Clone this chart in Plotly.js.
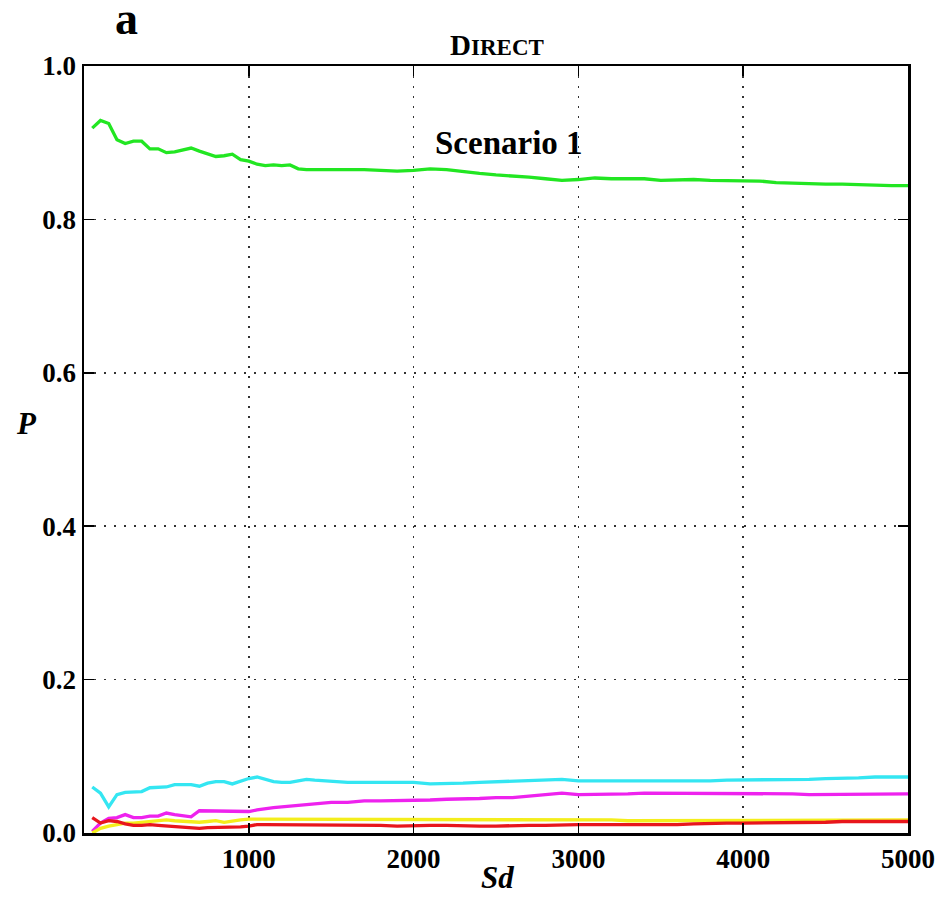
<!DOCTYPE html>
<html>
<head>
<meta charset="utf-8">
<script src="https://cdn.plot.ly/plotly-3.0.1.min.js"></script>
<style>html,body{margin:0;padding:0;background:#fff;}#chart{width:943px;height:913px;}</style>
</head>
<body>
<div id="chart"></div>
<script>
// Sd values (x)
const sd = [50,100,150,200,250,300,350,400,450,500,550,600,650,700,750,800,850,900,950,1000,
  1050,1100,1150,1200,1250,1300,1350,1400,1450,1500,
  1600,1700,1800,1900,2000,2100,2200,2300,2400,2500,2600,2700,2800,2900,3000,3100,3200,3300,3400,3500,
  3600,3700,3800,3900,4000,4100,4200,4300,4400,4500,4600,4700,4800,4900,5000];

const greenP = [0.919,0.929,0.925,0.904,0.899,0.902,0.902,0.892,0.892,0.887,0.888,0.891,0.893,0.889,0.885,0.882,0.883,0.885,0.878,0.876,
  0.872,0.870,0.871,0.870,0.871,0.866,0.865,0.865,0.865,0.865,
  0.866,0.865,0.864,0.863,0.864,0.866,0.865,0.862,0.860,0.858,0.857,0.855,0.853,0.851,0.852,0.854,0.853,0.853,0.853,0.851,
  0.852,0.852,0.851,0.851,0.850,0.850,0.848,0.847,0.847,0.846,0.846,0.845,0.844,0.844,0.844];

const cyanP = [0.060,0.052,0.034,0.050,0.053,0.053,0.054,0.059,0.060,0.060,0.063,0.063,0.063,0.061,0.065,0.067,0.067,0.064,0.068,0.071,
  0.073,0.070,0.067,0.066,0.066,0.068,0.070,0.069,0.068,0.067,
  0.066,0.066,0.066,0.067,0.066,0.064,0.064,0.065,0.066,0.067,0.068,0.068,0.069,0.070,0.068,0.068,0.067,0.067,0.067,0.067,
  0.068,0.068,0.068,0.069,0.069,0.069,0.070,0.070,0.070,0.071,0.071,0.072,0.073,0.073,0.073];

const magentaP = [0.002,0.013,0.019,0.020,0.024,0.020,0.020,0.022,0.022,0.026,0.024,0.023,0.021,0.029,0.029,0.029,0.029,0.028,0.028,0.028,
  0.030,0.032,0.033,0.034,0.035,0.035,0.036,0.037,0.039,0.040,
  0.040,0.042,0.042,0.042,0.042,0.043,0.044,0.044,0.045,0.046,0.046,0.048,0.050,0.052,0.050,0.050,0.050,0.051,0.052,0.052,
  0.051,0.051,0.051,0.051,0.051,0.051,0.051,0.051,0.050,0.050,0.050,0.051,0.051,0.051,0.051];

const yellowP = [0.000,0.006,0.009,0.011,0.013,0.013,0.014,0.015,0.016,0.017,0.016,0.015,0.015,0.014,0.015,0.016,0.014,0.016,0.017,0.018,
  0.018,0.017,0.017,0.018,0.018,0.017,0.017,0.017,0.017,0.017,
  0.017,0.017,0.017,0.017,0.017,0.017,0.018,0.018,0.018,0.018,0.017,0.017,0.017,0.017,0.017,0.017,0.017,0.016,0.016,0.016,
  0.017,0.017,0.017,0.017,0.017,0.017,0.017,0.017,0.017,0.017,0.017,0.017,0.017,0.017,0.017];

const redP = [0.020,0.013,0.016,0.015,0.012,0.010,0.010,0.011,0.010,0.009,0.009,0.008,0.007,0.006,0.007,0.007,0.007,0.007,0.008,0.009,
  0.011,0.011,0.011,0.010,0.010,0.010,0.010,0.010,0.010,0.010,
  0.010,0.010,0.010,0.009,0.010,0.010,0.010,0.009,0.009,0.009,0.010,0.010,0.010,0.011,0.011,0.011,0.011,0.011,0.011,0.010,
  0.011,0.012,0.013,0.013,0.013,0.013,0.014,0.014,0.014,0.014,0.015,0.015,0.015,0.015,0.015];

const xTicks = [1000,2000,3000,4000,5000];
const yTicks = [0.0,0.2,0.4,0.6,0.8,1.0];
const yTickLabels = ['0.0','0.2','0.4','0.6','0.8','1.0'];

const FONT = 'Liberation Serif';

function line(y, color) {
  return {x: sd, y: y, type: 'scatter', mode: 'lines',
    line: {color: color, width: 3.3}, hoverinfo: 'skip', showlegend: false};
}

const data = [
  line(cyanP, '#34e6f2'),
  line(magentaP, '#ee22ee'),
  line(yellowP, '#f4ee1c'),
  line(redP, '#e8161c'),
  line(greenP, '#22e622')
];

const axisCommon = {
  showline: true, linecolor: '#000', linewidth: 2.5, mirror: 'allticks',
  ticks: 'inside', ticklen: 10, tickwidth: 1.5, tickcolor: '#000',
  showgrid: true, gridcolor: '#333', gridwidth: 1.5, griddash: '2px,8px',
  zeroline: false,
  tickfont: {family: FONT, size: 27, color: '#000', weight: 'bold'}
};

const plotW = 943 - 84 - 35, plotH = 913 - 66 - 80;
function px(xpx) { return (xpx - 84) / plotW; }
function py(ypx) { return (913 - 80 - ypx) / plotH; }

const layout = {
  width: 943, height: 913,
  margin: {l: 84, r: 35, t: 66, b: 80},
  paper_bgcolor: '#fff', plot_bgcolor: '#fff',
  font: {family: FONT, color: '#000'},
  title: {
    text: 'D<span style="font-size:23px">IRECT</span>',
    font: {family: FONT, size: 29, color: '#000', weight: 'bold'},
    x: 0.527, xanchor: 'center', y: 0.951, yanchor: 'middle', yref: 'container'
  },
  xaxis: Object.assign({}, axisCommon, {
    range: [0, 5000], tickvals: xTicks, ticktext: xTicks.map(String)
  }),
  yaxis: Object.assign({}, axisCommon, {
    range: [0, 1], tickvals: yTicks, ticktext: yTickLabels
  }),
  annotations: [
    {text: 'Scenario 1', x: 2580, y: 0.900, xref: 'x', yref: 'y', showarrow: false,
      font: {family: FONT, size: 33, color: '#000', weight: 'bold'}},
    {text: 'a', x: px(126), y: py(19), xref: 'paper', yref: 'paper',
      showarrow: false, xanchor: 'center', yanchor: 'middle',
      font: {family: FONT, size: 46, color: '#000', weight: 'bold'}},
    {text: '<i>Sd</i>', x: px(497), y: py(877), xref: 'paper', yref: 'paper',
      showarrow: false, xanchor: 'center', yanchor: 'middle',
      font: {family: FONT, size: 31, color: '#000', weight: 'bold'}},
    {text: '<i>P</i>', x: px(26), y: py(423), xref: 'paper', yref: 'paper',
      showarrow: false, xanchor: 'center', yanchor: 'middle',
      font: {family: FONT, size: 31, color: '#000', weight: 'bold'}}
  ]
};

Plotly.newPlot('chart', data, layout, {displayModeBar: false, staticPlot: true});
</script>
</body>
</html>
